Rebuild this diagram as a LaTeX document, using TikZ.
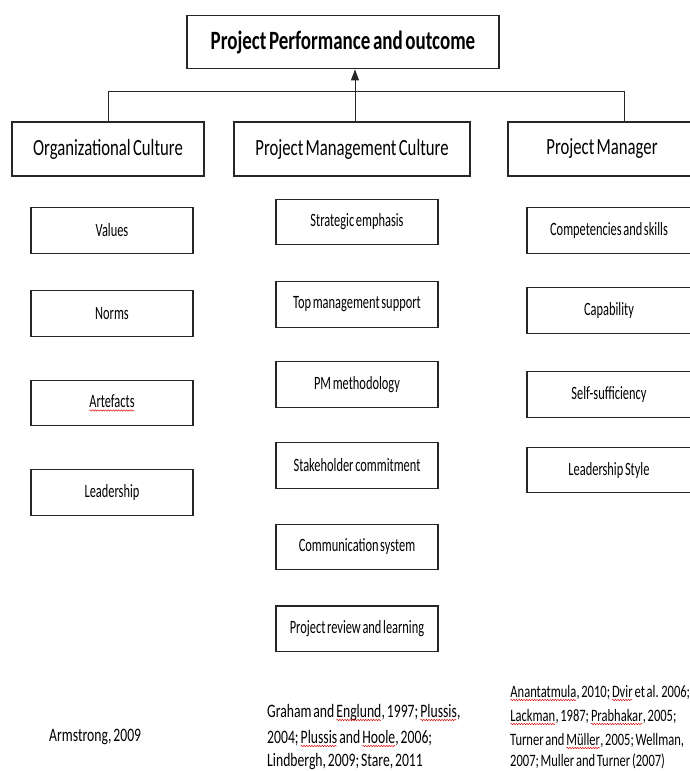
\documentclass[tikz,border=0pt]{standalone}
\usepackage{fontspec}
\setmainfont{Carlito}[FakeStretch=0.72,WordSpace=0.6]
\newfontfamily\itemfont{Carlito}[FakeStretch=0.66,WordSpace=0.6]
\usetikzlibrary{arrows.meta,decorations.pathmorphing}
\tikzset{
  sqline/.style={red!85!black,line width=0.45pt,decorate,decoration={snake,amplitude=0.7pt,segment length=2.6pt}},
  boxa/.style={draw=black!85,line width=1.2pt,inner sep=0pt,anchor=center,fill=white},
  titlebox/.style={boxa,minimum width=312pt,minimum height=53pt,font=\fontsize{26.4}{30}\selectfont\bfseries},
  catbox/.style={boxa,minimum height=54pt,font=\fontsize{23.2}{27}\selectfont},
  itembox/.style={boxa,minimum width=162pt,minimum height=45.5pt,font=\itemfont\fontsize{18.8}{22}\selectfont},
  reftext/.style={anchor=base west,inner sep=0pt,font=\fontsize{19}{25}\selectfont},
  reftextr/.style={reftext,font=\fontsize{17.4}{25}\selectfont},
  conn/.style={draw=black!85,line width=1pt},
}
\newcommand\sqg[1]{\tikz[baseline=(w.base)]{\node[draw=none,fill=none,inner sep=0pt,outer sep=0pt,anchor=base,minimum width=0pt,minimum height=0pt](w){#1};\draw[sqline]([yshift=-3pt]w.base west)--([yshift=-3pt]w.base east);}}
\begin{document}
\begin{tikzpicture}[x=1pt,y=-1pt]
\useasboundingbox[fill=white] (0,0) rectangle (689,771);
% top
\node[titlebox] (title) at (343,42.3) {Project Performance and outcome};
\node[catbox,minimum width=192pt] (oc) at (108,149) {Organizational Culture};
\node[catbox,minimum width=236pt] (pmc) at (352,149) {Project Management Culture};
\node[catbox,minimum width=188pt] (pm) at (602,149) {Project Manager};
\coordinate (jl) at (108,91);
\coordinate (jr) at (624,91);
\coordinate (ax) at (355,91);
\draw[conn] (oc.north) -- (jl) -- (jr) -- (jr |- pm.north);
\draw[conn,-{Triangle[length=11pt,width=8pt]}] (ax |- pmc.north) -- (ax |- title.south);
% left column
\node[itembox] (v1) at (112,230.5) {Values};
\node[itembox] (v2) at (112,313.5) {Norms};
\node[itembox] (v3) at (112,403) {\sqg{Artefacts}};
\node[itembox] (v4) at (112,492.5) {Leadership};
% middle column
\node[itembox] (m1) at (357,222) {Strategic emphasis};
\node[itembox] (m2) at (357,304.5) {Top management support};
\node[itembox] (m3) at (357,384.5) {PM methodology};
\node[itembox] (m4) at (357,465.5) {Stakeholder commitment};
\node[itembox] (m5) at (357,547) {Communication system};
\node[itembox] (m6) at (357,628.7) {Project review and learning};
% right column
\node[itembox,minimum width=164pt] (r1) at (609,230.5) {Competencies and skills};
\node[itembox,minimum width=164pt] (r2) at (609,310.5) {Capability};
\node[itembox,minimum width=164pt] (r3) at (609,394.5) {Self-sufficiency};
\node[itembox,minimum width=164pt] (r4) at (609,470) {Leadership Style};
% references
\node[reftext] (refl) at (49,741) {Armstrong, 2009};
\node[reftext] (refm1) at (267,717) {Graham and \sqg{Englund}, 1997; \sqg{Plussis},};
\node[reftext] (refm2) at (267,743) {2004; \sqg{Plussis} and \sqg{Hoole}, 2006;};
\node[reftext] (refm3) at (267,766) {Lindbergh, 2009; Stare, 2011};
\node[reftextr] (refr1) at (510,697) {\sqg{Anantatmula}, 2010; \sqg{Dvir} et al. 2006;};
\node[reftextr] (refr2) at (510,721) {\sqg{Lackman}, 1987; \sqg{Prabhakar}, 2005;};
\node[reftextr] (refr3) at (510,745) {Turner and \sqg{Müller}, 2005; Wellman,};
\node[reftextr] (refr4) at (510,766) {2007; Muller and Turner (2007)};
\end{tikzpicture}
\end{document}
